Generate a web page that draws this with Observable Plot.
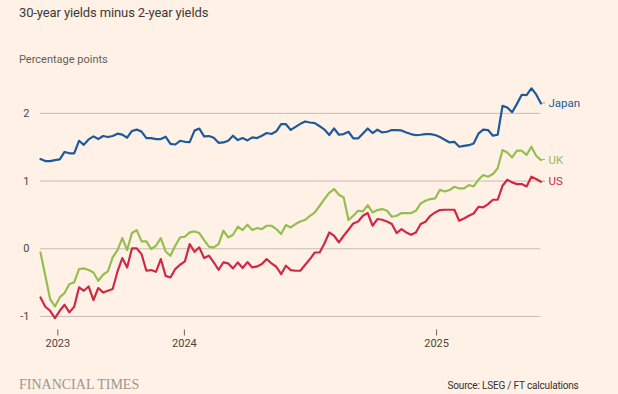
<!DOCTYPE html>
<html>
<head>
<meta charset="utf-8">
<script src="https://cdn.jsdelivr.net/npm/d3@7"></script>
<script src="https://cdn.jsdelivr.net/npm/@observablehq/plot@0.6"></script>
<style>
html, body { margin: 0; padding: 0; background: #fff1e5; }
#wrap { position: relative; width: 618px; height: 394px; background: #fff1e5; overflow: hidden; font-family: Roboto, "Open Sans", sans-serif; }
#title { position: absolute; left: 19px; top: 5.2px; font-size: 13px; letter-spacing: -0.12px; line-height: normal; color: #3d3935; white-space: nowrap; }
#subtitle { position: absolute; left: 19px; top: 53.3px; font-size: 11px; line-height: normal; color: #66605c; white-space: nowrap; }
#chart { position: absolute; left: 0; top: 70px; }
#brand { position: absolute; left: 19px; top: 377px; font-family: "Liberation Serif", serif; font-size: 14px; line-height: normal; color: #9e958f; white-space: nowrap; }
#source { position: absolute; right: 39.4px; top: 379.6px; font-size: 10px; letter-spacing: -0.18px; line-height: normal; color: #33302e; white-space: nowrap; }
</style>
</head>
<body>
<div id="wrap">
  <div id="title">30-year yields minus 2-year yields</div>
  <div id="subtitle">Percentage points</div>
  <div id="chart"></div>
  <div id="brand">FINANCIAL TIMES</div>
  <div id="source">Source: LSEG / FT calculations</div>
</div>
<script>
// Weekly observations (index 0 = first week shown), percentage points
const japan = [1.325,1.295,1.295,1.31,1.32,1.43,1.41,1.41,1.595,1.535,
  1.615,1.66,1.62,1.665,1.65,1.665,1.70,1.685,1.64,1.74,
  1.76,1.73,1.635,1.635,1.62,1.62,1.655,1.55,1.54,1.595,
  1.58,1.575,1.745,1.775,1.66,1.665,1.64,1.565,1.57,1.595,
  1.67,1.605,1.635,1.60,1.645,1.635,1.67,1.71,1.695,1.735,
  1.84,1.84,1.755,1.80,1.845,1.88,1.865,1.855,1.81,1.76,
  1.68,1.777,1.684,1.694,1.728,1.629,1.629,1.703,1.777,1.709,
  1.758,1.718,1.728,1.753,1.753,1.748,1.718,1.694,1.677,1.684,
  1.694,1.694,1.68,1.651,1.61,1.57,1.58,1.507,1.52,1.53,
  1.555,1.70,1.76,1.753,1.67,1.684,2.11,2.087,2.016,2.14,
  2.275,2.27,2.37,2.28,2.146];
const uk = [-0.055,-0.40,-0.743,-0.852,-0.719,-0.654,-0.521,-0.497,-0.30,-0.29,
  -0.315,-0.35,-0.473,-0.384,-0.335,-0.128,-0.02,0.158,-0.02,0.232,
  0.276,0.108,0.108,-0.005,0.044,0.158,-0.04,-0.103,0.044,0.167,
  0.177,0.241,0.256,0.232,0.128,0.03,0.02,0.069,0.266,0.167,
  0.207,0.325,0.276,0.355,0.276,0.306,0.291,0.34,0.34,0.291,
  0.217,0.35,0.315,0.365,0.403,0.428,0.487,0.536,0.635,0.734,
  0.827,0.882,0.798,0.758,0.424,0.487,0.561,0.551,0.645,0.536,
  0.571,0.586,0.561,0.473,0.487,0.527,0.527,0.527,0.561,0.669,
  0.709,0.734,0.743,0.871,0.846,0.867,0.916,0.891,0.891,0.941,
  0.92,1.019,1.089,1.064,1.103,1.19,1.458,1.422,1.349,1.448,
  1.448,1.384,1.507,1.374,1.31];
const us = [-0.72,-0.857,-0.916,-1.024,-0.916,-0.827,-0.94,-0.857,-0.571,-0.62,
  -0.557,-0.758,-0.58,-0.645,-0.62,-0.595,-0.335,-0.138,-0.276,0.005,
  0.005,-0.079,-0.325,-0.315,-0.34,-0.152,-0.40,-0.424,-0.30,-0.236,
  -0.187,0.069,-0.044,0.02,-0.138,-0.103,-0.202,-0.31,-0.202,-0.217,
  -0.29,-0.202,-0.285,-0.197,-0.276,-0.261,-0.226,-0.152,-0.217,-0.266,
  -0.374,-0.251,-0.315,-0.325,-0.325,-0.236,-0.152,-0.055,-0.055,0.078,
  0.241,0.192,0.093,0.192,0.281,0.374,0.403,0.487,0.527,0.34,
  0.439,0.428,0.403,0.365,0.232,0.291,0.241,0.207,0.241,0.365,
  0.399,0.487,0.536,0.571,0.576,0.576,0.576,0.414,0.448,0.487,
  0.521,0.62,0.61,0.66,0.724,0.724,0.93,1.019,0.98,0.955,
  0.955,0.92,1.064,1.03,0.99];

const seriesNames = ["Japan", "UK", "US"];
const seriesColors = ["#1d5a9b", "#95be50", "#cf2a45"];
const yTicks = [-1, 0, 1, 2];
const xTickWeeks = [3.6, 29.9, 82.3];
const xTickLabels = ["2023", "2024", "2025"];

const allSeries = [japan, uk, us];
const rows = [];
allSeries.forEach((arr, k) => arr.forEach((v, i) => rows.push({series: seriesNames[k], i, v})));
const lastPoints = allSeries.map((arr, k) => ({series: seriesNames[k], i: arr.length - 1, v: arr[arr.length - 1]}));
const xLabelMap = new Map(xTickWeeks.map((w, k) => [w, xTickLabels[k]]));

function leaders(index, scales) {
  const ns = "http://www.w3.org/2000/svg";
  const g = document.createElementNS(ns, "g");
  for (const d of lastPoints) {
    const x = scales.x(d.i), y = scales.y(d.v);
    const l = document.createElementNS(ns, "line");
    l.setAttribute("x1", x + 1.5);
    l.setAttribute("x2", x + 4.5);
    l.setAttribute("y1", y);
    l.setAttribute("y2", y);
    l.setAttribute("stroke", "#a89f98");
    l.setAttribute("stroke-width", 1);
    g.appendChild(l);
  }
  return g;
}

const chart = Plot.plot({
  width: 618,
  height: 290,
  marginTop: 9,
  marginBottom: 30.5,
  marginLeft: 40,
  marginRight: 77.5,
  style: {background: "transparent", fontFamily: "Roboto, sans-serif", fontSize: "11px", color: "#4a4542", overflow: "visible"},
  x: {domain: [0, 104], axis: null},
  y: {domain: [-1.2, 2.5], axis: null},
  color: {domain: seriesNames, range: seriesColors},
  marks: [
    Plot.gridY(yTicks, {stroke: "#c9bdb3", strokeOpacity: 1, strokeWidth: 1}),
    Plot.axisY(yTicks, {anchor: "left", tickSize: 0, tickPadding: 11, label: null, fill: "#4a4542",
      tickFormat: d => (d < 0 ? "-" + Math.abs(d) : String(d))}),
    Plot.axisX(xTickWeeks, {anchor: "bottom", tickSize: 6, tickPadding: 3, label: null, stroke: "#6b6460", fill: "#4a4542",
      tickFormat: d => xLabelMap.get(d)}),
    Plot.line(rows, {x: "i", y: "v", z: "series", stroke: "series", strokeWidth: 2.2, strokeLinejoin: "round"}),
    leaders,
    Plot.text(lastPoints, {x: "i", y: "v", text: "series", fill: "series", dx: 7.5, textAnchor: "start", fontSize: 11.5})
  ]
});
document.getElementById("chart").appendChild(chart);
</script>
</body>
</html>
